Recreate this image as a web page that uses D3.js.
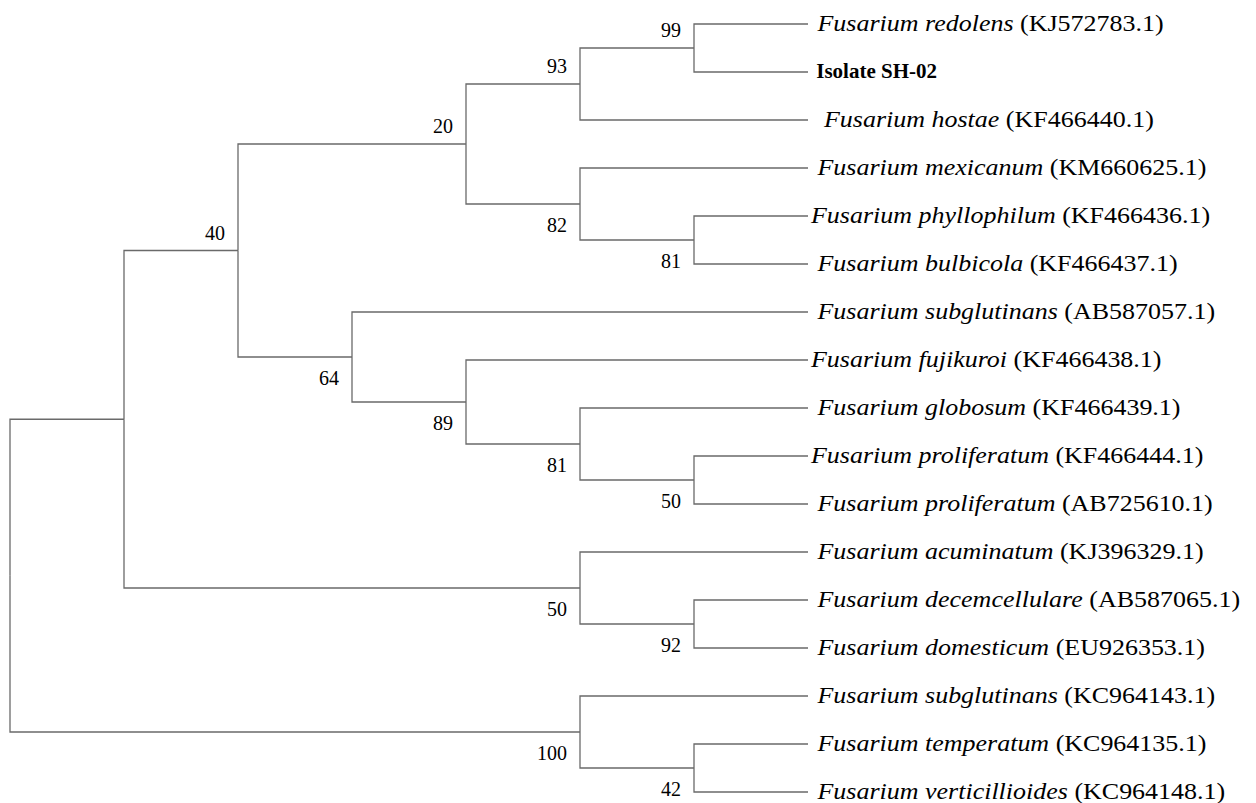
<!DOCTYPE html>
<html>
<head>
<meta charset="utf-8">
<script src="https://cdn.jsdelivr.net/npm/d3@7"></script>
<style>
  body { margin: 0; background: #fff; }
  svg { display: block; }
  text { font-family: "Times New Roman", "Liberation Serif", serif; fill: #000; white-space: pre; }
</style>
</head>
<body>
<svg id="tree"></svg>
<script>
// Leaf labels, top to bottom (leading spaces are part of the original labels)
const leafNames = [
  " Fusarium redolens", " Isolate SH-02", "  Fusarium hostae", " Fusarium mexicanum",
  "Fusarium phyllophilum", " Fusarium bulbicola", " Fusarium subglutinans", "Fusarium fujikuroi",
  " Fusarium globosum", "Fusarium proliferatum", " Fusarium proliferatum", " Fusarium acuminatum",
  " Fusarium decemcellulare", " Fusarium domesticum", " Fusarium subglutinans", " Fusarium temperatum",
  " Fusarium verticillioides"
]
const leafIds = [
  "KJ572783.1", "", "KF466440.1", "KM660625.1", "KF466436.1", "KF466437.1", "AB587057.1", "KF466438.1",
  "KF466439.1", "KF466444.1", "AB725610.1", "KJ396329.1", "AB587065.1", "EU926353.1", "KC964143.1",
  "KC964135.1", "KC964148.1"
]
// Which leaf is the studied isolate (drawn bold, upright)
const isolateIndex = 1

// Topology with bootstrap values (numbers in leaves = index into leafNames)
const newick = "((((((0,1)99,2)93,(3,(4,5)81)82)20,(6,(7,(8,(9,10)50)81)89)64)40,(11,(12,13)92)50),(14,(15,16)42)100);"

// Parse the newick string into a nested object
function parseNewick(s) {
  let i = 0
  function node() {
    const n = {}
    if (s[i] === "(") {
      i++
      n.children = [node()]
      while (s[i] === ",") { i++; n.children.push(node()) }
      i++ // ")"
    }
    let tok = ""
    while (i < s.length && !",();".includes(s[i])) tok += s[i++]
    if (n.children) { if (tok) n.support = +tok }
    else n.leaf = +tok
    return n
  }
  return node()
}

const width = 1256
const height = 803
const margin = {left: 10, top: 0}
const treeWidth = 798   // root to leaf tips
const treeHeight = 816  // 17 rows of 48px
const labelStretch = 1.13 // leaf names in the figure are a little wide

const svg = d3.select("#tree")
  .attr("width", width)
  .attr("height", height)

const g = svg.append("g")
  .attr("transform", "translate(" + margin.left + "," + margin.top + ")")

const root = d3.hierarchy(parseNewick(newick))
d3.cluster()
  .size([treeHeight, treeWidth])
  .separation(() => 1)(root)

// Elbow branches
g.selectAll("path.branch")
  .data(root.links())
  .enter()
  .append("path")
  .attr("class", "branch")
  .attr("d", (d) => "M" + d.source.y + "," + d.source.x + "V" + d.target.x + "H" + d.target.y)
  .attr("fill", "none")
  .attr("stroke", "#6a6a6a")
  .attr("stroke-width", 1.3)

// Bootstrap values: above the branch for the upper child, below for the lower one
g.selectAll("text.support")
  .data(root.descendants().filter((d) => d.data.support != null))
  .enter()
  .append("text")
  .attr("class", "support")
  .attr("x", (d) => d.y - 13)
  .attr("y", (d) => d.parent.children[0] === d ? d.x - 11 : d.x + 28)
  .attr("text-anchor", "end")
  .attr("font-size", "20px")
  .text((d) => d.data.support)

// Leaf labels
const labels = g.selectAll("text.leaf")
  .data(root.leaves())
  .enter()
  .append("text")
  .attr("class", "leaf")
  .attr("transform", (d) => d.data.leaf === isolateIndex
    ? "translate(" + (d.y + 3) + "," + d.x + ")"
    : "translate(" + (d.y + 3) + "," + d.x + ") scale(" + labelStretch + ",1)")
  .attr("dy", "0.3em")
  .attr("font-size", (d) => d.data.leaf === isolateIndex ? "21px" : "23px")

labels.append("tspan")
  .attr("font-style", (d) => d.data.leaf === isolateIndex ? "normal" : "italic")
  .attr("font-weight", (d) => d.data.leaf === isolateIndex ? "bold" : "normal")
  .text((d) => leafNames[d.data.leaf])

labels.filter((d) => leafIds[d.data.leaf])
  .append("tspan")
  .text((d) => " (" + leafIds[d.data.leaf] + ")")
</script>
</body>
</html>
